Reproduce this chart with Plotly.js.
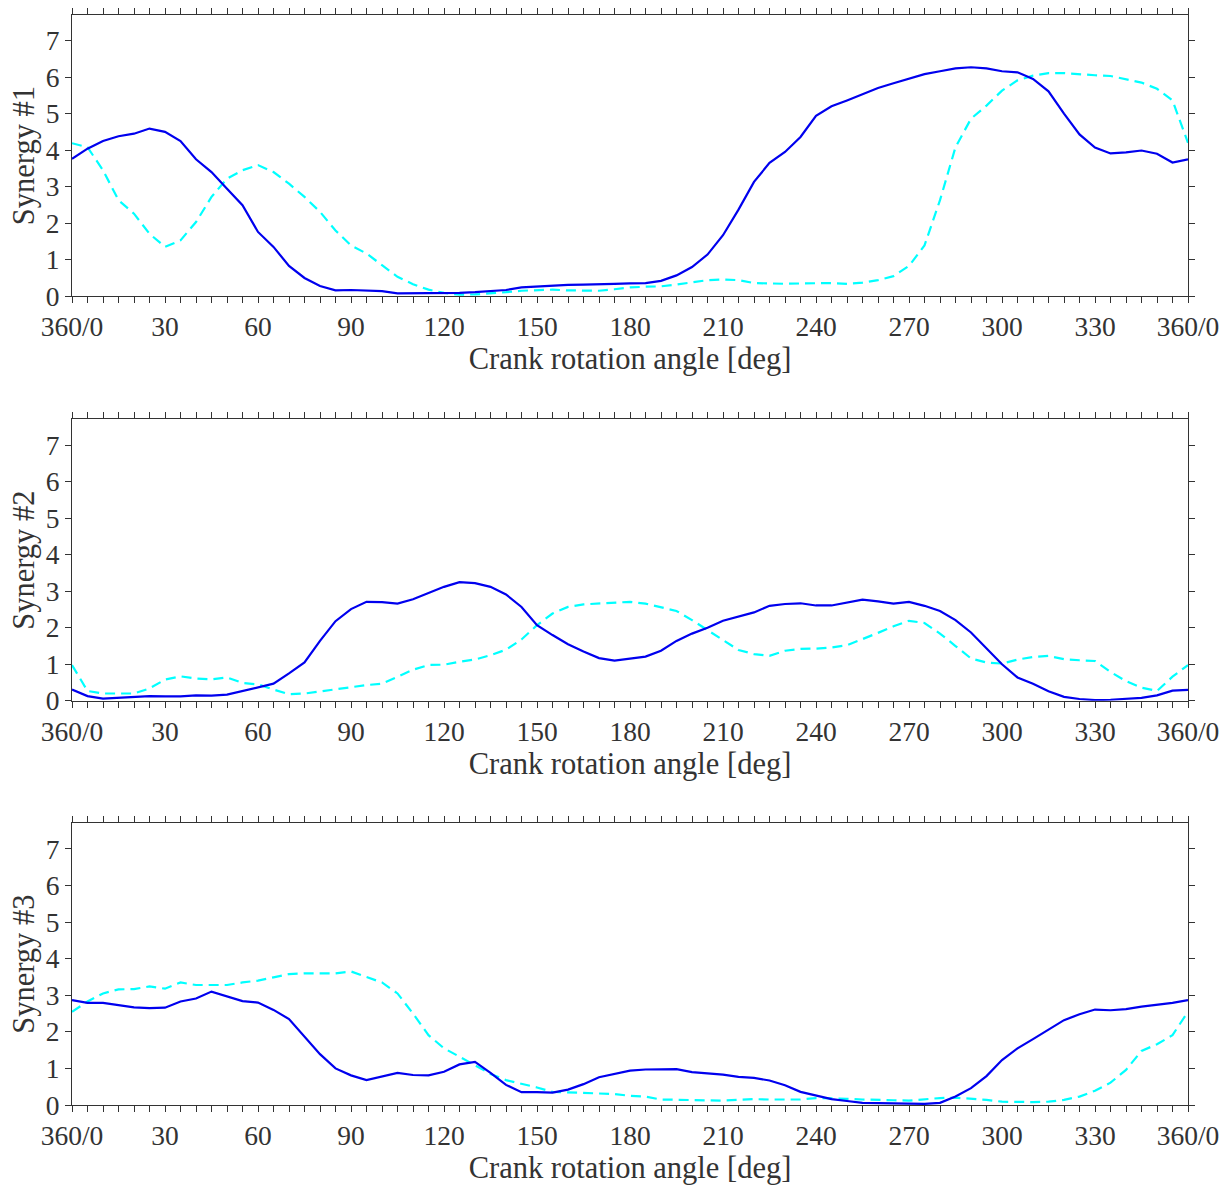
<!DOCTYPE html>
<html>
<head>
<meta charset="utf-8">
<script src="https://cdn.plot.ly/plotly-3.0.1.min.js"></script>
<style>html,body{margin:0;padding:0;background:#fff;}#chart{width:1231px;height:1189px;}</style>
</head>
<body>
<div id="chart"></div>
<script>
// Crank angle, every 5 degrees
const angle = [0,5,10,15,20,25,30,35,40,45,50,55,60,65,70,75,80,85,90,95,100,105,110,115,120,125,130,135,140,145,150,155,160,165,170,175,180,185,190,195,200,205,210,215,220,225,230,235,240,245,250,255,260,265,270,275,280,285,290,295,300,305,310,315,320,325,330,335,340,345,350,355,360];

const tickValues = [0,30,60,90,120,150,180,210,240,270,300,330,360];
const tickLabels = ["360/0","30","60","90","120","150","180","210","240","270","300","330","360/0"];

// Synergy #1
const syn1Solid = [3.76,4.04,4.25,4.38,4.45,4.59,4.50,4.25,3.75,3.40,2.94,2.49,1.76,1.35,0.83,0.50,0.28,0.16,0.17,0.16,0.14,0.08,0.08,0.08,0.08,0.09,0.11,0.13,0.17,0.24,0.27,0.29,0.31,0.32,0.34,0.34,0.35,0.36,0.42,0.57,0.80,1.14,1.67,2.37,3.13,3.65,3.95,4.36,4.94,5.20,5.36,5.54,5.70,5.83,5.96,6.08,6.16,6.24,6.27,6.24,6.16,6.13,5.95,5.61,5.00,4.43,4.07,3.91,3.94,3.99,3.90,3.66,3.75];
const syn1Dash = [4.19,4.08,3.45,2.63,2.26,1.71,1.35,1.53,2.03,2.72,3.22,3.45,3.59,3.40,3.08,2.72,2.31,1.80,1.39,1.17,0.85,0.53,0.33,0.18,0.09,0.04,0.05,0.07,0.11,0.15,0.17,0.18,0.16,0.15,0.15,0.19,0.24,0.26,0.27,0.32,0.38,0.44,0.46,0.44,0.36,0.34,0.34,0.35,0.36,0.36,0.34,0.37,0.44,0.55,0.83,1.39,2.63,4.08,4.86,5.22,5.63,5.91,6.04,6.11,6.11,6.07,6.05,6.03,5.93,5.85,5.68,5.36,4.20];

// Synergy #2
const syn2Solid = [0.31,0.13,0.06,0.09,0.11,0.13,0.12,0.12,0.15,0.14,0.17,0.27,0.35,0.47,0.75,1.05,1.64,2.18,2.51,2.71,2.70,2.66,2.78,2.95,3.12,3.25,3.22,3.12,2.91,2.57,2.07,1.80,1.55,1.35,1.17,1.10,1.16,1.21,1.37,1.64,1.84,2.00,2.19,2.30,2.42,2.60,2.65,2.67,2.61,2.61,2.68,2.77,2.72,2.66,2.71,2.60,2.46,2.21,1.87,1.43,1.00,0.64,0.47,0.26,0.11,0.05,0.02,0.03,0.05,0.08,0.15,0.28,0.30];
const syn2Dash = [0.98,0.27,0.20,0.19,0.20,0.34,0.58,0.67,0.61,0.59,0.64,0.49,0.45,0.31,0.18,0.20,0.26,0.33,0.38,0.43,0.47,0.67,0.85,0.98,0.99,1.07,1.13,1.25,1.40,1.68,2.07,2.39,2.57,2.64,2.67,2.69,2.71,2.66,2.57,2.46,2.21,1.93,1.66,1.39,1.28,1.23,1.37,1.42,1.43,1.46,1.52,1.68,1.86,2.04,2.19,2.13,1.84,1.50,1.16,1.05,1.02,1.13,1.20,1.23,1.14,1.11,1.09,0.79,0.54,0.36,0.27,0.66,0.98];

// Synergy #3
const syn3Solid = [2.87,2.79,2.79,2.74,2.67,2.65,2.66,2.83,2.91,3.10,2.98,2.84,2.80,2.60,2.35,1.87,1.39,1.00,0.81,0.68,0.77,0.88,0.82,0.81,0.91,1.11,1.18,0.88,0.55,0.35,0.35,0.34,0.42,0.57,0.76,0.86,0.94,0.97,0.97,0.98,0.90,0.87,0.83,0.77,0.74,0.67,0.54,0.36,0.27,0.16,0.11,0.06,0.05,0.04,0.04,0.03,0.06,0.23,0.46,0.79,1.23,1.55,1.80,2.05,2.32,2.48,2.61,2.59,2.62,2.69,2.73,2.79,2.87];
const syn3Dash = [2.55,2.83,3.05,3.16,3.17,3.24,3.18,3.35,3.28,3.28,3.28,3.35,3.40,3.49,3.58,3.60,3.60,3.60,3.65,3.51,3.35,3.05,2.50,1.91,1.55,1.32,1.09,0.85,0.68,0.59,0.48,0.36,0.34,0.33,0.32,0.30,0.25,0.23,0.15,0.14,0.12,0.11,0.12,0.14,0.16,0.15,0.15,0.15,0.19,0.19,0.17,0.15,0.15,0.13,0.12,0.16,0.19,0.20,0.18,0.14,0.09,0.08,0.08,0.09,0.14,0.23,0.39,0.61,0.96,1.48,1.66,1.91,2.55];

const yTitles = ["Synergy #1","Synergy #2","Synergy #3"];
const xTitle = "Crank rotation angle [deg]";

const solidColor = "#0000ee";
const dashColor = "#00ffff";
const axisColor = "#333333";
const fontFamily = '"Liberation Serif", "Times New Roman", serif';

const series = [[syn1Solid, syn1Dash],[syn2Solid, syn2Dash],[syn3Solid, syn3Dash]];
const traces = [];
series.forEach((pair, i) => {
  const xa = i === 0 ? 'x' : 'x' + (i + 1);
  const ya = i === 0 ? 'y' : 'y' + (i + 1);
  traces.push({x: angle, y: pair[1], xaxis: xa, yaxis: ya, mode: 'lines', line: {color: dashColor, width: 2.2, dash: '10px,6px'}, showlegend: false, hoverinfo: 'skip'});
  traces.push({x: angle, y: pair[0], xaxis: xa, yaxis: ya, mode: 'lines', line: {color: solidColor, width: 2.2}, showlegend: false, hoverinfo: 'skip'});
});

const domains = [[0.742, 1.0],[0.3708, 0.6289],[0.0, 0.2584]];
const layout = {
  width: 1231, height: 1189,
  margin: {l: 72, r: 43, t: 15, b: 84},
  paper_bgcolor: '#ffffff', plot_bgcolor: '#ffffff',
  font: {family: fontFamily, color: axisColor, size: 27},
  showlegend: false
};
for (let i = 0; i < 3; i++) {
  const sx = i === 0 ? '' : String(i + 1);
  layout['xaxis' + sx] = {
    anchor: 'y' + sx, domain: [0, 1], range: [0, 360],
    tickmode: 'array', tickvals: tickValues, ticktext: tickLabels,
    ticks: 'outside', ticklen: 6, tickwidth: 1, tickcolor: axisColor,
    minor: {dtick: 5, tick0: 0, ticks: 'outside', ticklen: 6, tickwidth: 1, tickcolor: axisColor, showgrid: false},
    showline: true, linecolor: axisColor, linewidth: 1, mirror: 'ticks',
    showgrid: false, zeroline: false,
    tickfont: {family: fontFamily, size: 27.5, color: axisColor},
    title: {text: xTitle, font: {family: fontFamily, size: 30.5, color: axisColor}, standoff: 4}
  };
  layout['yaxis' + sx] = {
    anchor: 'x' + sx, domain: domains[i], range: [0, 7.7],
    tickmode: 'linear', tick0: 0, dtick: 1,
    ticks: 'outside', ticklen: 6, tickwidth: 1, tickcolor: axisColor,
    showline: true, linecolor: axisColor, linewidth: 1, mirror: 'ticks',
    showgrid: false, zeroline: false,
    tickfont: {family: fontFamily, size: 27.5, color: axisColor},
    title: {text: yTitles[i], font: {family: fontFamily, size: 30.5, color: axisColor}, standoff: 2}
  };
}
Plotly.newPlot('chart', traces, layout, {staticPlot: true, displayModeBar: false});
</script>
</body>
</html>
